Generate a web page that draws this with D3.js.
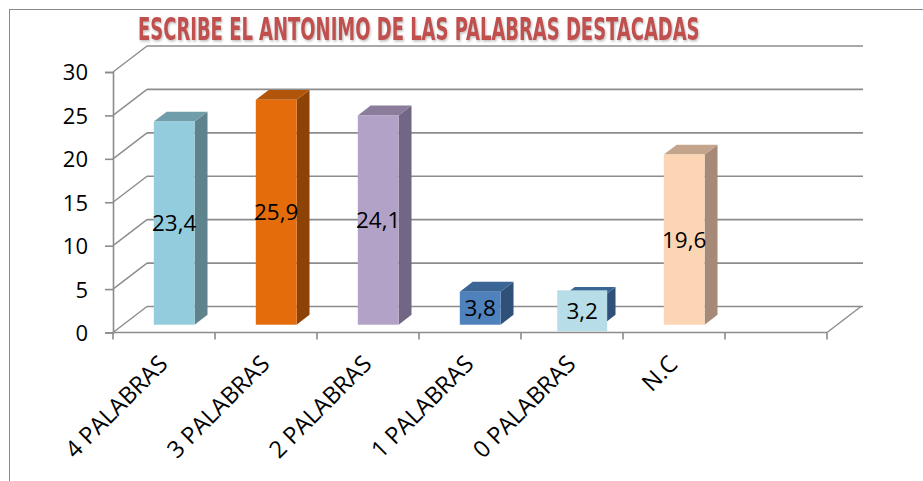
<!DOCTYPE html>
<html>
<head>
<meta charset="utf-8">
<script src="https://cdn.jsdelivr.net/npm/d3@7"></script>
<style>
  html, body { margin: 0; padding: 0; background: #fff; }
  svg { display: block; }
</style>
</head>
<body>
<svg id="chart" width="923" height="481"></svg>
<script>
// ---- data ----
const title = "ESCRIBE EL ANTONIMO DE LAS PALABRAS DESTACADAS";
const categories = ["4 PALABRAS", "3 PALABRAS", "2 PALABRAS", "1 PALABRAS", "0 PALABRAS", "N.C", ""];
const values = [23.4, 25.9, 24.1, 3.8, 3.2, 19.6, null];
const yTicks = [0, 5, 10, 15, 20, 25, 30];
const frontColors = ["#93CDDD", "#E46C0A", "#B3A2C7", "#4F81BD", "#4F81BD", "#FCD5B5", null];
const topColors   = ["#6F9DA9", "#B0550A", "#8A7C9A", "#3B6595", "#3B6595", "#C4A48B", null];
const sideColors  = ["#5F838C", "#8E4306", "#716683", "#2F5179", "#2F5179", "#A68A77", null];
const labelBoxes  = [null, null, null, null, "#B7DEE8", null, null];

// ---- layout ----
const svg = d3.select("#chart");
const W = 923, H = 481;
const locale = d3.formatLocale({decimal: ",", thousands: ".", grouping: [3], currency: ["", ""]});
const fmt = locale.format(".1f");

const x = d3.scaleBand().domain(categories).range([113, 827]).padding(0);
const y = d3.scaleLinear().domain([0, 30]).range([332.5, 72]);
const D = {x: 34, y: -26};           // depth vector of the 3D box
const barFront = 0.3, barDepth = 0.38, barWidthRatio = 0.4;

// outer border
svg.append("rect").attr("x", 9.5).attr("y", 9.5).attr("width", W + 20).attr("height", H + 20)
  .attr("fill", "none").attr("stroke", "#8a8a8a").attr("stroke-width", 1);

// title
const defs = svg.append("defs");
const f = defs.append("filter").attr("id", "tshadow").attr("x", "-5%").attr("y", "-30%").attr("width", "110%").attr("height", "160%");
f.append("feDropShadow").attr("dx", 1).attr("dy", 1.5).attr("stdDeviation", 0.8)
  .attr("flood-color", "#888").attr("flood-opacity", 0.55);

const titleG = svg.append("g").attr("filter", "url(#tshadow)");
const titleT = titleG.append("text").text(title)
  .attr("x", 0).attr("y", 0)
  .attr("font-family", "'Liberation Sans Narrow', 'DejaVu Sans Condensed', 'Liberation Sans', sans-serif")
  .attr("font-weight", "bold").attr("font-size", 31.5)
  .attr("fill", "#C0504D");
const natural = titleT.node().getComputedTextLength();
const sx = 562 / natural;
titleT.attr("transform", `translate(138,40) scale(${sx},1)`);

const gridColor = "#8c8c8c";
const x0 = x.range()[0], x1 = x.range()[1];
const g = svg.append("g");

// back wall gridlines + left wall diagonals
yTicks.forEach(v => {
  g.append("line").attr("x1", x0 + D.x).attr("x2", x1 + D.x + 2)
    .attr("y1", y(v) + D.y).attr("y2", y(v) + D.y)
    .attr("stroke", gridColor).attr("stroke-width", 1.6);
  g.append("line").attr("x1", x0).attr("y1", y(v))
    .attr("x2", x0 + D.x).attr("y2", y(v) + D.y)
    .attr("stroke", gridColor).attr("stroke-width", 1.4);
});
// floor right edge
g.append("line").attr("x1", x1).attr("y1", y(0)).attr("x2", x1 + D.x).attr("y2", y(0) + D.y)
  .attr("stroke", gridColor).attr("stroke-width", 1.4);

// bars
const bars = svg.append("g");
categories.forEach((c, i) => {
  const v = values[i];
  if (v == null) return;
  const bw = x.bandwidth() * barWidthRatio;
  const fx = x(c) + x.bandwidth() / 2 - bw / 2 + D.x * barFront;
  const ox = D.y * barFront;
  const yb = y(0) + ox, yt = y(v) + ox;
  const dx = D.x * barDepth, dy = D.y * barDepth;
  const poly = pts => pts.map(p => p.join(",")).join(" ");
  bars.append("polygon").attr("points", poly([[fx + bw, yt], [fx + bw + dx, yt + dy], [fx + bw + dx, yb + dy], [fx + bw, yb]]))
    .attr("fill", sideColors[i]);
  bars.append("polygon").attr("points", poly([[fx, yt], [fx + dx, yt + dy], [fx + bw + dx, yt + dy], [fx + bw, yt]]))
    .attr("fill", topColors[i]);
  bars.append("rect").attr("x", fx).attr("y", yt).attr("width", bw).attr("height", yb - yt)
    .attr("fill", frontColors[i]);

  const cx = fx + bw / 2, cy = (yt + yb) / 2;
  if (labelBoxes[i]) {
    bars.append("rect").attr("x", cx - 25).attr("y", cy - 20.5).attr("width", 50).attr("height", 41)
      .attr("fill", labelBoxes[i]);
  }
  bars.append("text").text(fmt(v))
    .attr("x", cx).attr("y", cy).attr("dy", "0.36em")
    .attr("text-anchor", "middle")
    .attr("font-family", "'Open Sans', 'Noto Sans', sans-serif").attr("font-size", 22.5)
    .attr("fill", "#000");
});

// y axis (front)
const yAxis = d3.axisLeft(y).tickValues(yTicks).tickSize(8).tickPadding(17).tickFormat(d3.format("d"));
const ya = svg.append("g").attr("transform", `translate(${x0},0)`).call(yAxis);
ya.select(".domain").attr("stroke", gridColor).attr("stroke-width", 1.6);
ya.selectAll(".tick line").attr("stroke", gridColor).attr("stroke-width", 1.6);
ya.selectAll(".tick text")
  .attr("font-family", "'Open Sans', 'Noto Sans', sans-serif").attr("font-size", 22)
  .attr("fill", "#000").attr("dy", "0.36em");

// x axis (front) - ticks at category edges
const xa = svg.append("g");
xa.append("line").attr("x1", x0).attr("x2", x1).attr("y1", y(0)).attr("y2", y(0))
  .attr("stroke", gridColor).attr("stroke-width", 1.6);
const edges = categories.map(c => x(c)).concat([x1]);
edges.forEach(e => {
  xa.append("line").attr("x1", e).attr("x2", e).attr("y1", y(0)).attr("y2", y(0) + 7)
    .attr("stroke", gridColor).attr("stroke-width", 1.6);
});
categories.forEach(c => {
  if (!c) return;
  const cx = x(c) + x.bandwidth() / 2;
  xa.append("text").text(c)
    .attr("transform", `translate(${cx + 5},${y(0) + 33}) rotate(-45)`)
    .attr("text-anchor", "end")
    .attr("font-family", "'Open Sans', 'Noto Sans', sans-serif").attr("font-size", 23.5)
    .attr("fill", "#000");
});
</script>
</body>
</html>
